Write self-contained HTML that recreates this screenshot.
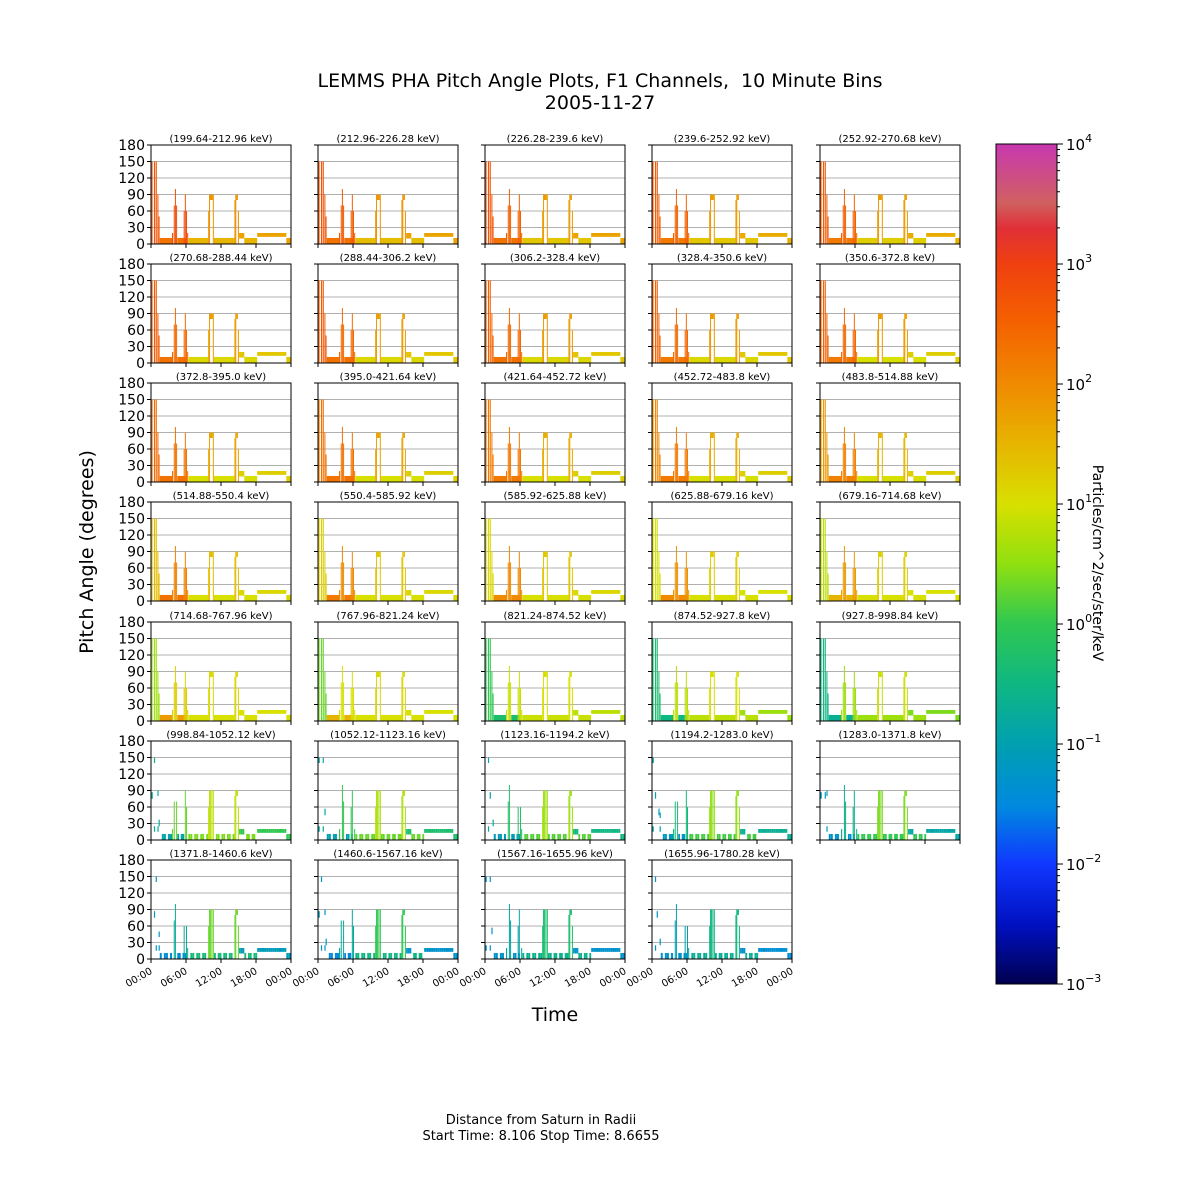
<!DOCTYPE html>
<html><head><meta charset="utf-8"><style>
html,body{margin:0;padding:0;background:#fff}
svg{display:block;font-family:"DejaVu Sans","Liberation Sans",sans-serif}
</style></head><body>
<svg id="fig" width="1200" height="1200" viewBox="0 0 1200 1200">
<text x="600" y="87" text-anchor="middle" font-size="19" xml:space="preserve" style="white-space:pre">LEMMS PHA Pitch Angle Plots, F1 Channels,  10 Minute Bins</text>
<text x="600" y="109" text-anchor="middle" font-size="19">2005-11-27</text>
<text transform="translate(93,552) rotate(-90)" text-anchor="middle" font-size="19">Pitch Angle (degrees)</text>
<text x="555" y="1021" text-anchor="middle" font-size="19">Time</text>
<text x="541" y="1124" text-anchor="middle" font-size="13">Distance from Saturn in Radii</text>
<text x="541" y="1140" text-anchor="middle" font-size="13">Start Time: 8.106 Stop Time: 8.6655</text>
<defs>
<linearGradient id="cmap" x1="0" y1="1" x2="0" y2="0">
<stop offset="0" stop-color="#000050"/>
<stop offset="0.07" stop-color="#0010c0"/>
<stop offset="0.143" stop-color="#1038ff"/>
<stop offset="0.21" stop-color="#0088e0"/>
<stop offset="0.286" stop-color="#00a0b0"/>
<stop offset="0.36" stop-color="#10b880"/>
<stop offset="0.43" stop-color="#30c850"/>
<stop offset="0.5" stop-color="#90e010"/>
<stop offset="0.571" stop-color="#d8e000"/>
<stop offset="0.65" stop-color="#e8b000"/>
<stop offset="0.714" stop-color="#f08a00"/>
<stop offset="0.79" stop-color="#f46000"/>
<stop offset="0.857" stop-color="#f04010"/>
<stop offset="0.9" stop-color="#e03038"/>
<stop offset="0.93" stop-color="#d06060"/>
<stop offset="1" stop-color="#c838b0"/>
</linearGradient>
</defs>
<g id="panels"></g>
<g id="cbar"></g>
</svg>
<script>
const NS='http://www.w3.org/2000/svg';
const channelLabels=["199.64-212.96","212.96-226.28","226.28-239.6","239.6-252.92","252.92-270.68","270.68-288.44","288.44-306.2","306.2-328.4","328.4-350.6","350.6-372.8","372.8-395.0","395.0-421.64","421.64-452.72","452.72-483.8","483.8-514.88","514.88-550.4","550.4-585.92","585.92-625.88","625.88-679.16","679.16-714.68","714.68-767.96","767.96-821.24","821.24-874.52","874.52-927.8","927.8-998.84","998.84-1052.12","1052.12-1123.16","1123.16-1194.2","1194.2-1283.0","1283.0-1371.8","1371.8-1460.6","1460.6-1567.16","1567.16-1655.96","1655.96-1780.28"];
// segments: [startHour, endHour, loDeg, hiDeg, group]  groups: 0 spike,1 peakA,2 bottomEarly,3 peakB,4 bottomMid,5 bottomLate
const segStart=[0.1,0.5,0.8,1.1,1.3,1.5,3.6,3.9,4.1,4.3,4.5,5.6,5.8,6.0,6.2,6.4,9.8,9.95,10.1,10.6,10.8,14.3,14.45,14.6,14.9,15.1,16.0,18.2,23.2];
const segEnd  =[0.3,0.8,1.1,1.3,1.5,3.6,3.9,4.1,4.3,4.5,6.0,5.8,6.0,6.2,6.4,9.8,9.95,10.1,10.6,10.8,14.3,14.45,14.6,14.9,15.1,16.0,18.2,23.2,24.0];
const segLo   =[0,0,0,0,0,0,0,0,0,0,0,0,0,0,0,0,0,0,0,0,0,0,0,0,0,10,0,13,0];
const segHi   =[150,150,150,90,50,11,20,70,100,70,11,60,90,60,20,11,60,90,90,90,11,80,90,90,60,20,11,20,11];
const segGroup=[0,0,0,0,0,2,1,1,1,1,2,1,1,1,1,4,3,3,3,3,4,3,3,3,3,5,4,5,5];
// log10 flux per channel per group
const fluxSpike=[2.7,2.7,2.7,2.6,2.6,2.6,2.6,2.5,2.5,2.5,2.4,2.3,2.2,2.0,1.8,1.4,1.2,1.1,1.0,0.8,0.6,0.3,0.0,-0.3,-0.5,-0.7,-0.8,-0.9,-1.0,-1.1,-1.2,-1.2,-1.3,-1.3];
const fluxPeakA=[2.8,2.6,2.5,2.5,2.5,2.4,2.4,2.4,2.4,2.4,2.3,2.3,2.2,2.2,2.1,2.1,2.0,2.0,1.9,1.8,1.2,1.0,0.9,0.8,0.6,0.3,0.0,-0.2,-0.4,-0.6,-0.7,-0.8,-0.9,-1.0];
const fluxPeakB=[1.9,1.9,1.8,1.8,1.8,1.8,1.8,1.8,1.8,1.8,1.7,1.7,1.6,1.6,1.5,1.4,1.3,1.3,1.2,1.2,1.1,1.1,1.0,1.0,0.9,0.8,0.7,0.6,0.5,0.4,0.3,0.0,-0.3,-0.5];
const fluxBotEarly=[2.3,2.3,2.3,2.2,2.2,2.3,2.3,2.3,2.2,2.2,2.3,2.3,2.2,2.2,2.1,2.3,2.2,2.0,2.0,1.5,1.8,1.5,-0.3,-0.5,-0.7,-0.9,-1.0,-1.1,-1.2,-1.3,-1.4,-1.5,-1.3,-1.3];
const fluxBotMid=[1.5,1.4,1.3,1.3,1.2,1.1,1.1,1.1,1.1,1.0,1.0,1.0,1.0,1.0,1.0,1.0,1.0,1.0,1.0,1.0,1.0,1.0,0.9,0.8,0.6,0.4,0.3,0.2,0.1,0.0,-0.4,-0.5,-0.6,-0.7];
const fluxBotLate=[1.7,1.7,1.7,1.6,1.6,1.3,1.3,1.3,1.3,1.2,1.2,1.2,1.2,1.2,1.2,1.1,1.1,1.1,1.0,1.0,1.0,1.0,0.8,0.6,0.4,0.0,-0.3,-0.5,-0.7,-0.9,-1.1,-1.3,-1.3,-1.4];
const yTicks=[0,30,60,90,120,150,180];
const xTickLabels=["00:00","06:00","12:00","18:00","00:00"];
const cbarExps=[-3,-2,-1,0,1,2,3,4];

const stops=[[0,[0,0,80]],[0.07,[0,16,192]],[0.143,[16,56,255]],[0.21,[0,136,224]],[0.286,[0,160,176]],[0.36,[16,184,128]],[0.43,[48,200,80]],[0.5,[144,224,16]],[0.571,[216,224,0]],[0.65,[232,176,0]],[0.714,[240,138,0]],[0.79,[244,96,0]],[0.857,[240,64,16]],[0.9,[224,48,56]],[0.93,[208,96,96]],[1,[200,56,176]]];
function cmap(lg){let f=(lg+3)/7;f=Math.max(0,Math.min(1,f));
 for(let i=1;i<stops.length;i++){if(f<=stops[i][0]){const a=stops[i-1],b=stops[i];const t=(f-a[0])/(b[0]-a[0]);
 const c=a[1].map((v,k)=>Math.round(v+(b[1][k]-v)*t));return`rgb(${c[0]},${c[1]},${c[2]})`;}}
 return'rgb(200,56,176)';}
function mk(tag,attrs,parent){const e=document.createElementNS(NS,tag);for(const k in attrs)e.setAttribute(k,attrs[k]);parent.appendChild(e);return e;}

const colX=[151,318,485,652,820],rowY=[145,264,383,502,622,741,860],PW=140,PH=99;
const panels=document.getElementById('panels');
const groups=[fluxSpike,fluxPeakA,fluxBotEarly,fluxPeakB,fluxBotMid,fluxBotLate];
channelLabels.forEach((lab,ci)=>{
 const r=Math.floor(ci/5),c=ci%5,x0=colX[c],y0=rowY[r];
 const g=mk('g',{},panels);
 
 
 const xs=h=>x0+h/24*PW, ys=d=>y0+PH-d/180*PH;
 yTicks.forEach(t=>{if(t>0&&t<180){const l=mk('line',{x1:x0,x2:x0+PW,y1:ys(t),y2:ys(t),stroke:'#b0b0b0','stroke-width':1},g);
  }});
 const sparse=ci>=25;
 for(let s=0;s<segStart.length;s++){
  const grp=segGroup[s];
  const v=groups[grp][ci];
  const n=sparse?Math.max(1,Math.round((segEnd[s]-segStart[s])*3)):1;
  for(let k=0;k<n;k++){
   if(sparse&&grp!==3&&grp!==5&&((k+s+ci)%3===0))continue;
   const t0=segStart[s]+(segEnd[s]-segStart[s])*k/n,t1=segStart[s]+(segEnd[s]-segStart[s])*(k+1)/n;
   const hi=segHi[s],lo=segLo[s];
   if(sparse&&grp===0){
    // sparse spikes: short scattered ticks
    const cells=[[hi-10,hi],[hi*0.5,hi*0.5+12],[15,25]];
    cells.forEach((cc,j)=>{if((j+ci+s)%2===0){const rc=mk('rect',{x:xs(t0),y:ys(cc[1]),width:1.2,height:ys(cc[0])-ys(cc[1]),fill:cmap(v)},g);
     }});
    continue;
   }
   if((grp===1||grp===3)&&(t1-t0)>0.25&&hi>20){
    const rc=mk('rect',{x:xs(t0),y:ys(hi),width:xs(t1)-xs(t0),height:ys(hi-10)-ys(hi),fill:cmap(v)},g);
    
   } else {
    const w=(grp===0||grp===1||grp===3)?Math.max(1,xs(t1)-xs(t0)-0.6):xs(t1)-xs(t0);
    const rc=mk('rect',{x:xs(t0),y:ys(hi),width:w,height:ys(lo)-ys(hi),fill:cmap(v)},g);
    
   }
  }
 }
 const fr=mk('rect',{x:x0,y:y0,width:PW,height:PH,fill:'none',stroke:'#000','stroke-width':1},g);
 
 const tt=mk('text',{x:x0+PW/2,y:y0-3,'text-anchor':'middle','font-size':10},g);tt.textContent='('+lab+' keV)';
 
 yTicks.forEach(t=>{mk('line',{x1:x0-4,x2:x0,y1:ys(t),y2:ys(t),stroke:'#000'},g);
  if(c===0){const tx=mk('text',{x:x0-6,y:ys(t)+5,'text-anchor':'end','font-size':14},g);tx.textContent=t;
  }});
 xTickLabels.forEach((lb,i)=>{const xx=x0+i*PW/4;mk('line',{x1:xx,x2:xx,y1:y0+PH,y2:y0+PH+4,stroke:'#000'},g);
  if(r===6){const tx=mk('text',{x:xx+2,y:y0+PH+14,'text-anchor':'end','font-size':10,transform:`rotate(-30 ${xx+2} ${y0+PH+14})`},g);tx.textContent=lb;
  }});
});
const cb=document.getElementById('cbar');
const CX=996,CY=144,CW=61,CH=840;
const cr=mk('rect',{x:CX,y:CY,width:CW,height:CH,fill:'url(#cmap)',stroke:'#000','stroke-width':1},cb);

const cy=e=>CY+CH-(e+3)/7*CH;
cbarExps.forEach(e=>{const y=cy(e);mk('line',{x1:CX+CW,x2:CX+CW+6,y1:y,y2:y,stroke:'#000'},cb);
 const t=mk('text',{x:CX+CW+9,y:y+6,'font-size':15},cb);t.textContent='10';
 const s=mk('tspan',{dy:-8,'font-size':11},t);s.textContent=String(e).replace('-','\u2212');
 
 if(e<4){for(let m=2;m<10;m++){const ym=cy(e+Math.log10(m));mk('line',{x1:CX+CW,x2:CX+CW+3,y1:ym,y2:ym,stroke:'#000'},cb);}}
});
const cl=mk('text',{transform:'translate(1093,563) rotate(90)','text-anchor':'middle','font-size':14},cb);
cl.textContent='Particles/cm^2/sec/ster/keV';

</script>
</body></html>
